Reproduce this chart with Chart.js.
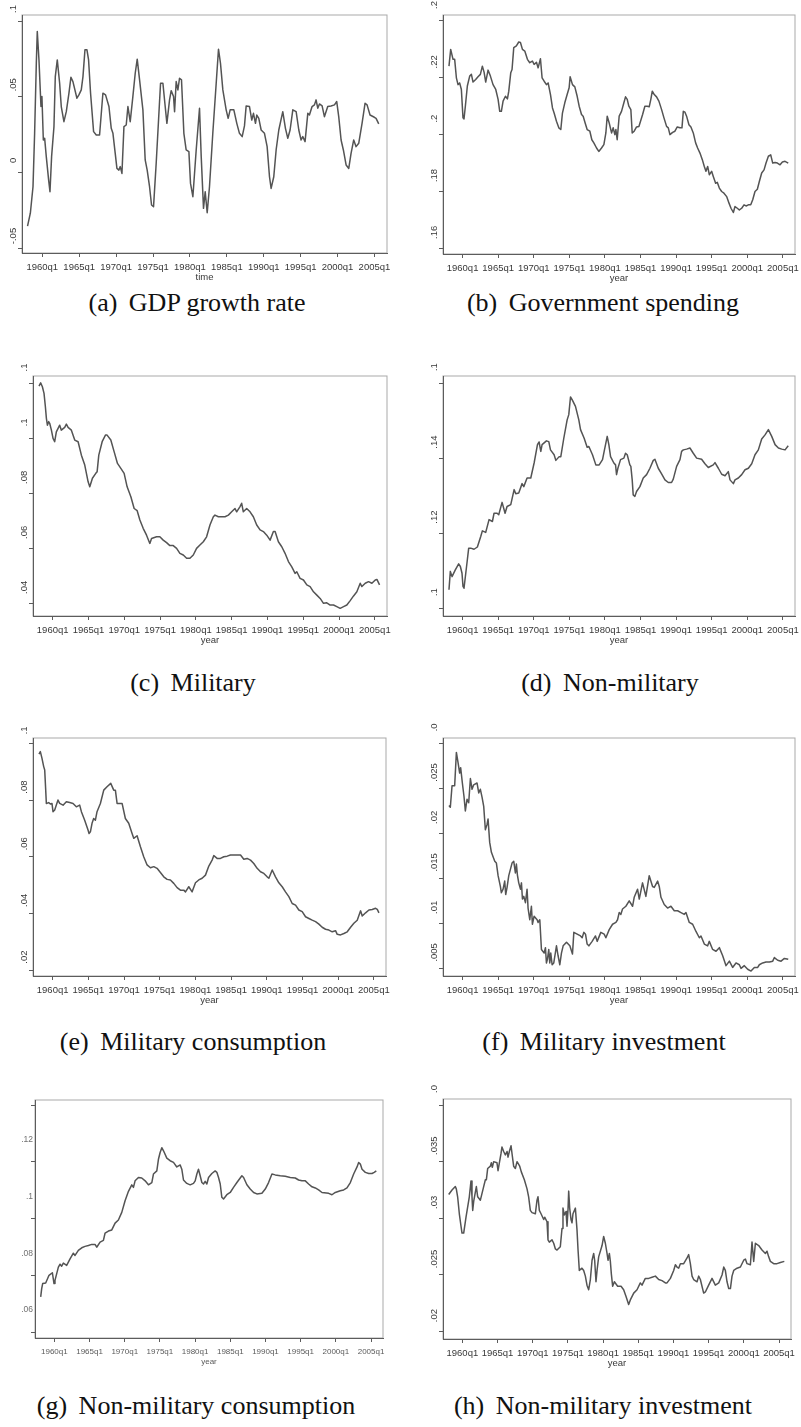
<!DOCTYPE html>
<html>
<head>
<meta charset="utf-8">
<script src="https://cdn.jsdelivr.net/npm/chart.js@4.4.1/dist/chart.umd.min.js"></script>
<style>
  body { margin: 0; background: #fff; width: 801px; height: 1427px; position: relative; overflow: hidden; }
  canvas { position: absolute; }
  .cap { position: absolute; width: 400px; text-align: center; white-space: nowrap;
         font-family: "Liberation Serif", "Times New Roman", serif; font-size: 26px; line-height: 30px; color: #111; }
  .cap span { margin-right: 5px; }
</style>
</head>
<body>
<canvas id="pa"></canvas><canvas id="pb"></canvas>
<canvas id="pc"></canvas><canvas id="pd"></canvas>
<canvas id="pe"></canvas><canvas id="pf"></canvas>
<canvas id="pg"></canvas><canvas id="ph"></canvas>

<div class="cap" style="left:-3px;top:288px"><span>(a)</span> GDP growth rate</div>
<div class="cap" style="left:403px;top:288px"><span>(b)</span> Government spending</div>
<div class="cap" style="left:-7px;top:668px"><span>(c)</span> Military</div>
<div class="cap" style="left:410px;top:668px"><span>(d)</span> Non-military</div>
<div class="cap" style="left:-7px;top:1027px"><span>(e)</span> Military consumption</div>
<div class="cap" style="left:404px;top:1027px"><span>(f)</span> Military investment</div>
<div class="cap" style="left:-4px;top:1391px"><span>(g)</span> Non-military consumption</div>
<div class="cap" style="left:403px;top:1391px"><span>(h)</span> Non-military investment</div>

<script>
// quarterly series, [year, share]
const tickYears = [1960, 1965, 1970, 1975, 1980, 1985, 1990, 1995, 2000, 2005];

const gdpGrowth = [[1958.00,-0.0355],[1958.38,-0.0270],[1958.74,-0.0095],[1958.96,0.0258],[1959.19,0.0721],[1959.32,0.0931],[1959.55,0.0743],[1959.82,0.0435],[1959.95,0.0501],[1960.14,0.0214],[1960.32,0.0225],[1960.54,0.0104],[1960.86,-0.0051],[1961.04,-0.0128],[1961.26,0.0104],[1961.58,0.0302],[1961.76,0.0633],[1962.03,0.0743],[1962.35,0.0589],[1962.57,0.0435],[1962.93,0.0335],[1963.25,0.0401],[1963.61,0.0523],[1963.88,0.0629],[1964.15,0.0600],[1964.69,0.0490],[1964.96,0.0512],[1965.28,0.0545],[1965.51,0.0633],[1965.78,0.0810],[1966.05,0.0810],[1966.27,0.0743],[1966.54,0.0523],[1966.95,0.0269],[1967.31,0.0247],[1967.76,0.0247],[1968.21,0.0523],[1968.57,0.0512],[1969.03,0.0435],[1969.34,0.0291],[1969.57,0.0258],[1969.88,0.0126],[1970.11,0.0026],[1970.38,0.0015],[1970.56,0.0038],[1970.79,-0.0007],[1971.06,0.0302],[1971.37,0.0313],[1971.60,0.0435],[1971.91,0.0335],[1972.27,0.0501],[1972.59,0.0655],[1972.86,0.0748],[1973.18,0.0611],[1973.63,0.0413],[1973.94,0.0082],[1974.21,0.0015],[1974.53,-0.0095],[1974.80,-0.0216],[1975.07,-0.0227],[1975.43,0.0060],[1975.75,0.0346],[1976.02,0.0589],[1976.34,0.0589],[1976.65,0.0435],[1976.88,0.0324],[1977.24,0.0479],[1977.46,0.0540],[1977.78,0.0501],[1977.92,0.0401],[1978.14,0.0600],[1978.37,0.0545],[1978.59,0.0622],[1978.86,0.0611],[1979.18,0.0258],[1979.49,0.0148],[1979.86,0.0137],[1980.08,-0.0073],[1980.40,-0.0161],[1980.85,0.0148],[1981.30,0.0424],[1981.53,0.0104],[1981.84,-0.0238],[1982.07,-0.0128],[1982.34,-0.0267],[1982.65,-0.0095],[1983.10,0.0258],[1983.56,0.0589],[1983.87,0.0814],[1984.14,0.0721],[1984.46,0.0545],[1984.91,0.0413],[1985.18,0.0357],[1985.45,0.0413],[1985.95,0.0413],[1986.35,0.0324],[1986.71,0.0258],[1987.08,0.0236],[1987.39,0.0307],[1987.62,0.0439],[1988.07,0.0435],[1988.38,0.0346],[1988.61,0.0390],[1988.88,0.0324],[1989.06,0.0379],[1989.33,0.0357],[1989.65,0.0280],[1990.10,0.0258],[1990.46,0.0170],[1990.78,-0.0029],[1991.00,-0.0106],[1991.36,-0.0029],[1991.68,0.0148],[1992.04,0.0280],[1992.58,0.0401],[1992.94,0.0291],[1993.26,0.0225],[1993.57,0.0280],[1993.94,0.0413],[1994.39,0.0401],[1994.75,0.0280],[1995.06,0.0214],[1995.29,0.0236],[1995.60,0.0203],[1995.97,0.0390],[1996.19,0.0379],[1996.55,0.0435],[1996.87,0.0446],[1997.09,0.0479],[1997.32,0.0424],[1997.55,0.0452],[1997.91,0.0439],[1998.22,0.0368],[1998.67,0.0435],[1999.12,0.0439],[1999.58,0.0446],[1999.89,0.0468],[2000.16,0.0368],[2000.48,0.0214],[2000.79,0.0148],[2001.16,0.0049],[2001.52,0.0026],[2001.83,0.0126],[2002.19,0.0214],[2002.51,0.0170],[2002.87,0.0192],[2003.32,0.0324],[2003.73,0.0457],[2004.00,0.0446],[2004.40,0.0379],[2004.99,0.0364],[2005.22,0.0357],[2005.58,0.0320]];

const govSpending = [[1958.09,0.2241],[1958.33,0.2300],[1958.66,0.2265],[1958.89,0.2265],[1959.13,0.2200],[1959.36,0.2176],[1959.59,0.2182],[1959.83,0.2159],[1960.06,0.2059],[1960.20,0.2055],[1960.39,0.2100],[1960.67,0.2171],[1961.00,0.2206],[1961.24,0.2212],[1961.47,0.2185],[1961.84,0.2194],[1962.17,0.2204],[1962.50,0.2212],[1962.78,0.2241],[1963.02,0.2220],[1963.25,0.2185],[1963.58,0.2227],[1963.91,0.2206],[1964.28,0.2176],[1964.66,0.2159],[1964.99,0.2124],[1965.22,0.2082],[1965.45,0.2082],[1965.69,0.2118],[1966.02,0.2135],[1966.30,0.2126],[1966.49,0.2153],[1966.77,0.2218],[1966.95,0.2229],[1967.19,0.2306],[1967.56,0.2312],[1967.89,0.2326],[1968.13,0.2324],[1968.41,0.2300],[1968.74,0.2294],[1969.11,0.2265],[1969.44,0.2253],[1969.81,0.2259],[1970.05,0.2247],[1970.38,0.2255],[1970.61,0.2235],[1970.94,0.2267],[1971.17,0.2200],[1971.46,0.2188],[1971.78,0.2176],[1972.02,0.2182],[1972.35,0.2141],[1972.63,0.2094],[1972.86,0.2076],[1973.19,0.2047],[1973.52,0.2024],[1973.80,0.2018],[1974.03,0.2076],[1974.36,0.2112],[1974.69,0.2141],[1974.97,0.2165],[1975.11,0.2204],[1975.44,0.2176],[1975.77,0.2168],[1976.10,0.2135],[1976.38,0.2100],[1976.71,0.2071],[1976.94,0.2065],[1977.22,0.2041],[1977.50,0.2018],[1977.88,0.2012],[1978.16,0.1982],[1978.44,0.1971],[1978.82,0.1953],[1979.14,0.1941],[1979.52,0.1953],[1979.85,0.1965],[1980.13,0.2006],[1980.32,0.2065],[1980.60,0.2041],[1980.93,0.2006],[1981.16,0.2024],[1981.39,0.2000],[1981.54,0.2018],[1981.72,0.1982],[1982.00,0.2065],[1982.33,0.2082],[1982.66,0.2112],[1982.89,0.2133],[1983.13,0.2124],[1983.36,0.2100],[1983.64,0.2088],[1983.83,0.2006],[1984.11,0.2012],[1984.44,0.2027],[1984.77,0.2029],[1985.00,0.2047],[1985.29,0.2071],[1985.61,0.2100],[1985.94,0.2100],[1986.22,0.2098],[1986.46,0.2126],[1986.65,0.2153],[1986.93,0.2141],[1987.25,0.2133],[1987.58,0.2118],[1987.96,0.2088],[1988.29,0.2059],[1988.66,0.2029],[1988.90,0.2024],[1989.13,0.2000],[1989.51,0.2008],[1989.83,0.2012],[1990.16,0.2027],[1990.54,0.2024],[1990.82,0.2024],[1991.01,0.2082],[1991.24,0.2079],[1991.47,0.2065],[1991.80,0.2035],[1992.08,0.2027],[1992.41,0.2006],[1992.74,0.1971],[1993.02,0.1953],[1993.35,0.1935],[1993.68,0.1912],[1993.96,0.1888],[1994.19,0.1871],[1994.43,0.1888],[1994.66,0.1859],[1994.99,0.1871],[1995.22,0.1853],[1995.55,0.1829],[1995.79,0.1832],[1996.07,0.1812],[1996.40,0.1800],[1996.72,0.1794],[1997.10,0.1782],[1997.43,0.1759],[1997.71,0.1741],[1998.04,0.1726],[1998.27,0.1747],[1998.60,0.1741],[1998.88,0.1735],[1999.21,0.1741],[1999.54,0.1753],[1999.82,0.1749],[2000.15,0.1753],[2000.48,0.1753],[2000.76,0.1771],[2001.08,0.1800],[2001.41,0.1808],[2001.69,0.1835],[2002.02,0.1865],[2002.35,0.1876],[2002.63,0.1900],[2002.96,0.1924],[2003.29,0.1929],[2003.57,0.1900],[2003.90,0.1902],[2004.23,0.1900],[2004.60,0.1894],[2004.93,0.1904],[2005.30,0.1906],[2005.75,0.1900]];

const military = [[1958.09,0.1190],[1958.32,0.1202],[1958.56,0.1188],[1958.79,0.1164],[1958.98,0.1115],[1959.12,0.1073],[1959.26,0.1048],[1959.44,0.1061],[1959.58,0.1055],[1959.82,0.1030],[1960.05,0.1000],[1960.28,0.0988],[1960.51,0.1024],[1960.98,0.1048],[1961.21,0.1030],[1961.68,0.1040],[1961.91,0.1052],[1962.15,0.1040],[1962.61,0.1030],[1963.08,0.0994],[1963.55,0.0988],[1964.01,0.0939],[1964.48,0.0903],[1964.95,0.0842],[1965.18,0.0824],[1965.55,0.0855],[1966.02,0.0873],[1966.21,0.0879],[1966.44,0.0939],[1966.91,0.0988],[1967.37,0.1012],[1967.60,0.1012],[1968.12,0.0994],[1968.58,0.0952],[1969.05,0.0909],[1969.52,0.0891],[1969.98,0.0873],[1970.40,0.0824],[1970.92,0.0788],[1971.38,0.0745],[1971.80,0.0737],[1972.18,0.0703],[1972.64,0.0673],[1973.11,0.0648],[1973.57,0.0618],[1973.81,0.0636],[1974.51,0.0642],[1974.97,0.0642],[1975.44,0.0630],[1975.91,0.0621],[1976.37,0.0610],[1976.84,0.0610],[1977.31,0.0600],[1977.77,0.0582],[1978.24,0.0576],[1978.71,0.0564],[1979.17,0.0564],[1979.64,0.0576],[1980.10,0.0600],[1980.57,0.0612],[1981.04,0.0624],[1981.50,0.0642],[1981.97,0.0685],[1982.44,0.0715],[1982.67,0.0721],[1983.14,0.0715],[1983.60,0.0715],[1984.07,0.0715],[1984.54,0.0721],[1985.00,0.0733],[1985.47,0.0745],[1985.70,0.0733],[1986.17,0.0752],[1986.40,0.0764],[1986.63,0.0733],[1987.10,0.0745],[1987.57,0.0733],[1988.03,0.0715],[1988.50,0.0685],[1988.97,0.0667],[1989.43,0.0661],[1989.90,0.0648],[1990.37,0.0630],[1990.83,0.0661],[1991.07,0.0661],[1991.53,0.0624],[1992.00,0.0606],[1992.46,0.0582],[1992.93,0.0552],[1993.40,0.0533],[1993.86,0.0509],[1994.10,0.0515],[1994.56,0.0491],[1995.03,0.0485],[1995.50,0.0467],[1995.96,0.0461],[1996.43,0.0442],[1996.90,0.0430],[1997.36,0.0418],[1997.83,0.0400],[1998.29,0.0402],[1998.76,0.0394],[1999.23,0.0394],[1999.69,0.0388],[2000.16,0.0382],[2000.63,0.0388],[2001.09,0.0394],[2001.56,0.0410],[2002.03,0.0427],[2002.49,0.0442],[2002.96,0.0473],[2003.19,0.0461],[2003.66,0.0473],[2004.12,0.0479],[2004.59,0.0473],[2005.06,0.0485],[2005.29,0.0487],[2005.66,0.0467]];

const nonMilitary = [[1958.09,0.1049],[1958.28,0.1098],[1958.52,0.1084],[1958.98,0.1102],[1959.45,0.1118],[1959.69,0.1111],[1959.92,0.1093],[1960.06,0.1058],[1960.20,0.1053],[1960.67,0.1129],[1960.86,0.1160],[1961.14,0.1160],[1961.61,0.1157],[1962.08,0.1163],[1962.55,0.1191],[1962.78,0.1206],[1963.25,0.1202],[1963.72,0.1236],[1964.19,0.1231],[1964.42,0.1253],[1964.85,0.1253],[1965.08,0.1249],[1965.55,0.1282],[1965.97,0.1253],[1966.25,0.1271],[1966.77,0.1276],[1967.24,0.1316],[1967.47,0.1305],[1967.89,0.1307],[1968.36,0.1332],[1968.60,0.1324],[1969.06,0.1347],[1969.58,0.1347],[1970.05,0.1387],[1970.52,0.1436],[1970.75,0.1443],[1970.99,0.1418],[1971.17,0.1436],[1971.78,0.1446],[1972.11,0.1444],[1972.35,0.1422],[1972.86,0.1409],[1973.10,0.1394],[1973.57,0.1404],[1973.80,0.1404],[1974.22,0.1453],[1974.69,0.1502],[1974.92,0.1516],[1975.16,0.1563],[1975.39,0.1556],[1975.86,0.1538],[1976.33,0.1502],[1976.57,0.1476],[1977.08,0.1453],[1977.50,0.1429],[1977.74,0.1431],[1978.25,0.1409],[1978.72,0.1382],[1979.19,0.1382],[1979.66,0.1396],[1979.89,0.1418],[1980.32,0.1458],[1980.55,0.1436],[1980.79,0.1404],[1981.25,0.1387],[1981.49,0.1382],[1981.63,0.1356],[1981.82,0.1373],[1982.19,0.1396],[1982.66,0.1400],[1982.89,0.1413],[1983.13,0.1409],[1983.50,0.1382],[1983.64,0.1378],[1983.83,0.1342],[1983.97,0.1302],[1984.21,0.1298],[1984.44,0.1311],[1984.91,0.1324],[1985.38,0.1347],[1985.85,0.1356],[1986.32,0.1373],[1986.79,0.1394],[1987.02,0.1397],[1987.49,0.1373],[1987.96,0.1358],[1988.43,0.1342],[1988.90,0.1335],[1989.36,0.1335],[1989.60,0.1344],[1990.07,0.1378],[1990.54,0.1396],[1990.77,0.1418],[1991.01,0.1422],[1991.47,0.1424],[1991.94,0.1427],[1992.41,0.1413],[1992.88,0.1400],[1993.58,0.1397],[1994.05,0.1385],[1994.52,0.1375],[1995.22,0.1382],[1995.46,0.1388],[1995.93,0.1373],[1996.40,0.1357],[1996.87,0.1353],[1997.33,0.1364],[1997.57,0.1342],[1998.04,0.1332],[1998.27,0.1342],[1998.74,0.1347],[1999.21,0.1356],[1999.68,0.1369],[2000.15,0.1373],[2000.62,0.1385],[2001.08,0.1409],[2001.55,0.1422],[2002.02,0.1451],[2002.49,0.1462],[2002.96,0.1476],[2003.43,0.1458],[2003.90,0.1436],[2004.37,0.1427],[2004.84,0.1424],[2005.30,0.1422],[2005.75,0.1433]];

const militaryConsumption = [[1958.09,0.0962],[1958.28,0.0971],[1958.51,0.0947],[1958.75,0.0918],[1958.89,0.0906],[1959.03,0.0835],[1959.12,0.0788],[1959.45,0.0791],[1959.68,0.0786],[1959.91,0.0788],[1960.05,0.0759],[1960.29,0.0765],[1960.75,0.0800],[1960.99,0.0788],[1961.46,0.0782],[1961.92,0.0794],[1962.39,0.0791],[1962.86,0.0788],[1963.32,0.0776],[1963.79,0.0782],[1964.03,0.0759],[1964.49,0.0729],[1964.96,0.0694],[1965.10,0.0682],[1965.29,0.0688],[1965.52,0.0718],[1965.75,0.0735],[1965.99,0.0729],[1966.22,0.0759],[1966.69,0.0788],[1967.16,0.0835],[1967.62,0.0847],[1968.14,0.0859],[1968.56,0.0835],[1968.79,0.0835],[1969.03,0.0788],[1969.73,0.0788],[1970.19,0.0735],[1970.66,0.0718],[1971.13,0.0682],[1971.36,0.0665],[1971.83,0.0674],[1972.30,0.0635],[1972.76,0.0600],[1973.23,0.0571],[1973.70,0.0561],[1974.17,0.0565],[1974.63,0.0559],[1975.10,0.0544],[1975.57,0.0529],[1976.04,0.0520],[1976.50,0.0518],[1976.97,0.0506],[1977.44,0.0491],[1977.90,0.0482],[1978.37,0.0482],[1978.61,0.0476],[1979.07,0.0494],[1979.54,0.0476],[1980.01,0.0508],[1980.47,0.0518],[1980.94,0.0524],[1981.41,0.0535],[1981.88,0.0567],[1982.34,0.0588],[1982.58,0.0604],[1983.04,0.0594],[1983.51,0.0594],[1983.98,0.0600],[1984.45,0.0602],[1984.91,0.0606],[1985.38,0.0606],[1985.85,0.0606],[1986.32,0.0606],[1986.78,0.0591],[1987.25,0.0594],[1987.72,0.0588],[1988.18,0.0576],[1988.65,0.0559],[1989.12,0.0547],[1989.59,0.0541],[1990.05,0.0529],[1990.29,0.0524],[1990.76,0.0553],[1991.22,0.0529],[1991.69,0.0508],[1992.16,0.0494],[1992.62,0.0476],[1993.09,0.0459],[1993.56,0.0435],[1994.03,0.0429],[1994.49,0.0412],[1994.96,0.0406],[1995.43,0.0388],[1995.90,0.0382],[1996.36,0.0376],[1996.83,0.0371],[1997.30,0.0362],[1997.76,0.0351],[1998.23,0.0344],[1998.70,0.0341],[1999.17,0.0335],[1999.63,0.0339],[1999.87,0.0326],[2000.33,0.0324],[2000.80,0.0329],[2001.27,0.0335],[2001.74,0.0351],[2002.20,0.0365],[2002.67,0.0376],[2003.14,0.0409],[2003.37,0.0391],[2003.84,0.0402],[2004.31,0.0412],[2004.77,0.0414],[2005.24,0.0418],[2005.48,0.0414],[2005.71,0.0402]];

const militaryInvestment = [[1958.09,0.0231],[1958.28,0.0229],[1958.52,0.0253],[1958.89,0.0253],[1959.13,0.0290],[1959.36,0.0279],[1959.59,0.0267],[1959.73,0.0273],[1959.97,0.0256],[1960.20,0.0241],[1960.39,0.0225],[1960.63,0.0238],[1960.86,0.0234],[1961.10,0.0261],[1961.33,0.0249],[1961.56,0.0254],[1962.03,0.0256],[1962.27,0.0245],[1962.50,0.0249],[1962.74,0.0240],[1962.97,0.0230],[1963.20,0.0204],[1963.44,0.0210],[1963.58,0.0216],[1963.81,0.0190],[1964.05,0.0179],[1964.52,0.0169],[1964.75,0.0167],[1964.99,0.0153],[1965.31,0.0141],[1965.45,0.0134],[1965.69,0.0138],[1965.92,0.0147],[1966.06,0.0132],[1966.25,0.0140],[1966.49,0.0153],[1966.95,0.0167],[1967.19,0.0169],[1967.42,0.0156],[1967.56,0.0166],[1967.70,0.0154],[1967.89,0.0145],[1968.13,0.0138],[1968.27,0.0145],[1968.41,0.0127],[1968.60,0.0130],[1968.83,0.0123],[1969.06,0.0138],[1969.20,0.0117],[1969.44,0.0104],[1969.67,0.0119],[1969.81,0.0099],[1970.05,0.0108],[1970.47,0.0104],[1970.61,0.0101],[1970.85,0.0104],[1971.08,0.0071],[1971.46,0.0067],[1971.64,0.0073],[1971.78,0.0056],[1971.92,0.0060],[1972.11,0.0071],[1972.25,0.0056],[1972.39,0.0067],[1972.58,0.0054],[1972.81,0.0056],[1973.19,0.0075],[1973.42,0.0064],[1973.66,0.0054],[1973.89,0.0067],[1974.13,0.0075],[1974.60,0.0079],[1975.07,0.0075],[1975.44,0.0066],[1975.63,0.0090],[1976.10,0.0088],[1976.57,0.0086],[1976.80,0.0084],[1977.03,0.0090],[1977.27,0.0088],[1977.50,0.0077],[1977.74,0.0075],[1978.20,0.0080],[1978.67,0.0086],[1978.91,0.0080],[1979.42,0.0090],[1979.89,0.0088],[1980.13,0.0084],[1980.60,0.0093],[1981.07,0.0099],[1981.54,0.0101],[1981.77,0.0104],[1982.00,0.0112],[1982.24,0.0110],[1982.47,0.0116],[1982.94,0.0119],[1983.41,0.0125],[1983.88,0.0119],[1984.11,0.0129],[1984.58,0.0138],[1984.82,0.0127],[1985.28,0.0145],[1985.75,0.0130],[1986.22,0.0153],[1986.69,0.0141],[1986.93,0.0140],[1987.40,0.0147],[1987.63,0.0141],[1987.87,0.0129],[1988.33,0.0121],[1988.80,0.0117],[1989.27,0.0119],[1989.74,0.0114],[1990.21,0.0114],[1990.68,0.0112],[1991.15,0.0110],[1991.38,0.0112],[1991.85,0.0101],[1992.32,0.0099],[1992.79,0.0091],[1993.26,0.0084],[1993.49,0.0086],[1993.96,0.0077],[1994.43,0.0075],[1994.66,0.0080],[1995.13,0.0071],[1995.60,0.0069],[1996.07,0.0073],[1996.54,0.0064],[1997.01,0.0053],[1997.48,0.0058],[1997.94,0.0051],[1998.41,0.0056],[1998.88,0.0054],[1999.12,0.0050],[1999.58,0.0053],[2000.05,0.0049],[2000.52,0.0047],[2000.99,0.0051],[2001.46,0.0051],[2001.69,0.0054],[2002.16,0.0056],[2002.63,0.0057],[2003.10,0.0057],[2003.57,0.0058],[2003.80,0.0062],[2004.27,0.0059],[2004.74,0.0058],[2005.21,0.0061],[2005.75,0.0060]];

const nonMilitaryConsumption = [[1958.06,0.0724],[1958.20,0.0753],[1958.34,0.0771],[1958.77,0.0773],[1959.24,0.0800],[1959.72,0.0809],[1959.95,0.0771],[1960.09,0.0782],[1960.57,0.0829],[1960.81,0.0839],[1961.04,0.0832],[1961.28,0.0843],[1961.75,0.0835],[1962.23,0.0858],[1962.70,0.0878],[1962.94,0.0870],[1963.41,0.0888],[1963.89,0.0897],[1964.36,0.0902],[1964.84,0.0905],[1965.31,0.0909],[1965.78,0.0909],[1966.02,0.0899],[1966.50,0.0917],[1966.97,0.0923],[1967.21,0.0949],[1967.68,0.0956],[1968.16,0.0960],[1968.63,0.0984],[1969.10,0.0995],[1969.58,0.1022],[1970.05,0.1063],[1970.53,0.1096],[1971.00,0.1119],[1971.24,0.1110],[1971.47,0.1133],[1971.95,0.1145],[1972.42,0.1143],[1972.90,0.1133],[1973.37,0.1119],[1973.85,0.1127],[1974.08,0.1157],[1974.56,0.1168],[1974.79,0.1209],[1975.03,0.1233],[1975.27,0.1250],[1975.51,0.1239],[1975.98,0.1213],[1976.45,0.1204],[1976.93,0.1198],[1977.40,0.1182],[1977.64,0.1186],[1977.88,0.1189],[1978.11,0.1174],[1978.35,0.1136],[1978.82,0.1124],[1979.30,0.1119],[1979.77,0.1124],[1980.01,0.1133],[1980.25,0.1157],[1980.48,0.1174],[1980.72,0.1151],[1980.96,0.1127],[1981.19,0.1122],[1981.43,0.1131],[1981.67,0.1122],[1981.91,0.1145],[1982.38,0.1159],[1982.85,0.1168],[1983.09,0.1163],[1983.33,0.1145],[1983.57,0.1122],[1983.80,0.1075],[1984.04,0.1069],[1984.51,0.1084],[1984.99,0.1092],[1985.46,0.1110],[1985.94,0.1127],[1986.41,0.1143],[1986.65,0.1151],[1986.89,0.1145],[1987.36,0.1119],[1987.83,0.1104],[1988.31,0.1092],[1988.78,0.1087],[1989.49,0.1089],[1989.97,0.1104],[1990.44,0.1127],[1990.92,0.1157],[1991.39,0.1154],[1992.10,0.1151],[1992.81,0.1149],[1993.52,0.1145],[1994.23,0.1143],[1994.71,0.1136],[1995.18,0.1133],[1995.66,0.1133],[1996.13,0.1122],[1996.61,0.1112],[1997.08,0.1108],[1997.55,0.1101],[1998.03,0.1092],[1998.98,0.1089],[1999.45,0.1084],[1999.92,0.1092],[2000.63,0.1098],[2001.11,0.1101],[2001.58,0.1108],[2002.06,0.1127],[2002.53,0.1157],[2003.01,0.1182],[2003.24,0.1198],[2003.48,0.1192],[2003.72,0.1174],[2004.19,0.1163],[2004.67,0.1159],[2005.14,0.1159],[2005.45,0.1163],[2005.75,0.1168]];

const nonMilitaryInvestment = [[1958.06,0.0321],[1958.53,0.0325],[1959.00,0.0328],[1959.14,0.0326],[1959.33,0.0319],[1959.57,0.0304],[1959.81,0.0293],[1959.95,0.0287],[1960.19,0.0287],[1960.52,0.0301],[1960.99,0.0319],[1961.23,0.0333],[1961.37,0.0319],[1961.47,0.0307],[1961.61,0.0315],[1961.99,0.0328],[1962.18,0.0319],[1962.56,0.0316],[1963.03,0.0328],[1963.27,0.0334],[1963.41,0.0334],[1963.60,0.0344],[1963.98,0.0346],[1964.12,0.0349],[1964.26,0.0345],[1964.45,0.0350],[1964.92,0.0349],[1965.07,0.0342],[1965.26,0.0349],[1965.49,0.0357],[1965.63,0.0363],[1965.87,0.0359],[1966.11,0.0356],[1966.35,0.0359],[1966.49,0.0354],[1966.68,0.0359],[1966.92,0.0364],[1967.06,0.0357],[1967.29,0.0346],[1967.53,0.0344],[1967.77,0.0350],[1968.15,0.0346],[1968.38,0.0341],[1968.81,0.0334],[1969.19,0.0326],[1969.42,0.0319],[1969.66,0.0307],[1969.90,0.0305],[1970.37,0.0304],[1970.61,0.0316],[1970.75,0.0319],[1970.94,0.0307],[1971.18,0.0304],[1971.56,0.0299],[1971.70,0.0301],[1972.03,0.0297],[1972.17,0.0281],[1972.36,0.0279],[1972.74,0.0281],[1972.98,0.0278],[1973.22,0.0273],[1973.45,0.0272],[1973.92,0.0275],[1974.16,0.0291],[1974.30,0.0309],[1974.49,0.0303],[1974.73,0.0306],[1974.87,0.0293],[1975.01,0.0307],[1975.11,0.0324],[1975.25,0.0309],[1975.44,0.0299],[1975.58,0.0296],[1975.72,0.0304],[1976.06,0.0309],[1976.29,0.0290],[1976.44,0.0272],[1976.62,0.0254],[1977.00,0.0256],[1977.24,0.0254],[1977.48,0.0249],[1977.71,0.0241],[1977.95,0.0237],[1978.19,0.0246],[1978.43,0.0263],[1978.66,0.0269],[1978.80,0.0263],[1978.99,0.0244],[1979.14,0.0254],[1979.37,0.0266],[1979.85,0.0276],[1980.08,0.0284],[1980.32,0.0278],[1980.56,0.0269],[1980.70,0.0263],[1980.89,0.0269],[1981.03,0.0262],[1981.17,0.0251],[1981.36,0.0240],[1981.60,0.0244],[1982.07,0.0240],[1982.55,0.0240],[1982.92,0.0237],[1983.26,0.0231],[1983.63,0.0224],[1983.87,0.0228],[1984.35,0.0234],[1984.82,0.0237],[1985.29,0.0243],[1985.53,0.0241],[1986.00,0.0247],[1986.48,0.0247],[1986.95,0.0248],[1987.43,0.0249],[1987.90,0.0246],[1988.37,0.0245],[1988.85,0.0243],[1989.08,0.0243],[1989.56,0.0247],[1990.03,0.0254],[1990.27,0.0259],[1990.50,0.0257],[1990.74,0.0256],[1990.98,0.0260],[1991.45,0.0260],[1991.93,0.0265],[1992.16,0.0268],[1992.40,0.0260],[1992.64,0.0249],[1992.87,0.0246],[1993.35,0.0244],[1993.58,0.0249],[1993.82,0.0246],[1994.29,0.0234],[1994.53,0.0235],[1995.00,0.0241],[1995.48,0.0247],[1995.95,0.0241],[1996.43,0.0243],[1996.90,0.0250],[1997.14,0.0257],[1997.37,0.0254],[1997.61,0.0244],[1997.85,0.0238],[1998.09,0.0238],[1998.32,0.0249],[1998.56,0.0254],[1999.03,0.0256],[1999.51,0.0257],[1999.98,0.0263],[2000.22,0.0264],[2000.45,0.0260],[2000.93,0.0259],[2001.16,0.0279],[2001.40,0.0262],[2001.64,0.0278],[2002.11,0.0276],[2002.58,0.0272],[2003.06,0.0269],[2003.29,0.0271],[2003.53,0.0266],[2003.77,0.0262],[2004.24,0.0260],[2004.71,0.0260],[2005.19,0.0261],[2005.75,0.0262]];

// y ticks; the top label of several panels is cut by the crop of the source figure
const gdpTicks = [-0.05, 0, 0.05, 0.1];
const gdpTickText = ['-.05', '0', '.05', '.1'];
const govTicks = [0.16, 0.18, 0.2, 0.22, 0.24];
const govTickText = ['.16', '.18', '.2', '.22', '.2'];
const milTicks = [0.04, 0.06, 0.08, 0.1, 0.12];
const milTickText = ['.04', '.06', '.08', '.1', '.1'];
const nonMilTicks = [0.1, 0.12, 0.14, 0.16];
const nonMilTickText = ['.1', '.12', '.14', '.1'];
const milConTicks = [0.02, 0.04, 0.06, 0.08, 0.1];
const milConTickText = ['.02', '.04', '.06', '.08', '.1'];
const milInvTicks = [0.005, 0.01, 0.015, 0.02, 0.025, 0.03];
const milInvTickText = ['.005', '.01', '.015', '.02', '.025', '.0'];
const nonMilConTicks = [0.06, 0.08, 0.1, 0.12, 0.14];
const nonMilConTickText = ['.06', '.08', '.1', '.12', ''];
const nonMilInvTicks = [0.02, 0.025, 0.03, 0.035, 0.04];
const nonMilInvTickText = ['.02', '.025', '.03', '.035', '.0'];

const X_MIN = 1957.25, X_MAX = 2006.7;

// panel layout: plot box in page pixels [left, top, right, bottom]
const panels = [
  { id: 'pa', col: 0, box: [22, 15, 387, 253],   series: gdpGrowth, ticks: gdpTicks, text: gdpTickText, yMin: -0.0533, yMax: 0.1040, title: 'time', shift: 12 },
  { id: 'pb', col: 1, box: [443, 15, 795, 254],  series: govSpending, ticks: govTicks, text: govTickText, yMin: 0.1580, yMax: 0.2421, title: 'year', shift: 16 },
  { id: 'pc', col: 0, box: [33, 376, 387, 616],  series: military, ticks: milTicks, text: milTickText, yMin: 0.0354, yMax: 0.1227, title: 'year', shift: 16 },
  { id: 'pd', col: 1, box: [443, 376, 795, 616], series: nonMilitary, ticks: nonMilTicks, text: nonMilTickText, yMin: 0.0979, yMax: 0.1619, title: 'year', shift: 16 },
  { id: 'pe', col: 0, box: [33, 738, 386, 976],  series: militaryConsumption, ticks: milConTicks, text: milConTickText, yMin: 0.0179, yMax: 0.1019, title: 'year', shift: 13 },
  { id: 'pf', col: 1, box: [443, 738, 795, 976], series: militaryInvestment, ticks: milInvTicks, text: milInvTickText, yMin: 0.00415, yMax: 0.0306, title: 'year', shift: 16 },
  { id: 'pg', col: 0, box: [35, 1100, 383, 1338], series: nonMilitaryConsumption, ticks: nonMilConTicks, text: nonMilConTickText, yMin: 0.0579, yMax: 0.1418, title: 'year', shift: 22, flat: true },
  { id: 'ph', col: 1, box: [443, 1099, 791, 1339], series: nonMilitaryInvestment, ticks: nonMilInvTicks, text: nonMilInvTickText, yMin: 0.01935, yMax: 0.04053, title: 'year', shift: 16 }
];

const TICK = 4;

// frame round the plot region, and Stata-like tick texts
const stataAxes = {
  id: 'stataAxes',
  beforeDraw(chart) {
    const { ctx, chartArea: a } = chart;
    ctx.save();
    ctx.strokeStyle = '#a9a9a9';
    ctx.lineWidth = 1;
    ctx.strokeRect(a.left, a.top, a.right - a.left, a.bottom - a.top);
    ctx.restore();
  },
  afterDraw(chart, args, o) {
    const { ctx, chartArea: a, scales: { x, y } } = chart;
    ctx.save();
    ctx.fillStyle = o.flat ? '#5a5a5a' : '#383838';
    ctx.font = (o.flat ? '8px' : '9.5px') + ' "Liberation Sans", Arial, sans-serif';
    ctx.textAlign = 'center';
    ctx.textBaseline = 'middle';
    tickYears.forEach(v => ctx.fillText(v + 'q1', x.getPixelForValue(v), a.bottom + 14));
    ctx.fillText(o.title, (a.left + a.right) / 2, a.bottom + 24);

    o.ticks.forEach((v, i) => {
      const py = y.getPixelForValue(v) - o.shift;
      if (o.flat) {
        ctx.textAlign = 'right';
        ctx.font = '8.5px "Liberation Sans", Arial, sans-serif';
        ctx.fillStyle = '#707070';
        ctx.fillText(o.text[i], a.left - 2, py);
      } else {
        ctx.save();
        ctx.translate(a.left - 8.5, py);
        ctx.rotate(-Math.PI / 2);
        ctx.fillText(o.text[i], 0, 0);
        ctx.restore();
      }
    });
    ctx.restore();
  }
};

panels.forEach(p => {
  const [bl, bt, br, bb] = p.box;
  const cx = p.col ? 400 : 0;
  const cw = p.col ? 401 : 400;
  const cy = bt - 15;
  const ch = bb - cy + 34;
  const canvas = document.getElementById(p.id);
  canvas.width = cw; canvas.height = ch;
  canvas.style.left = cx + 'px'; canvas.style.top = cy + 'px';
  canvas.style.width = cw + 'px'; canvas.style.height = ch + 'px';

  const axisLine = { display: true, drawOnChartArea: false, drawTicks: true, tickLength: TICK, color: '#5c5c5c', tickColor: '#5c5c5c', lineWidth: 1 };

  new Chart(canvas, {
    type: 'line',
    data: {
      datasets: [{
        data: p.series.map(([yr, v]) => ({ x: yr, y: v })),
        borderColor: '#545454',
        borderWidth: 1.5,
        pointRadius: 0,
        tension: 0,
        borderJoinStyle: 'round'
      }]
    },
    options: {
      responsive: false,
      animation: false,
      events: [],
      layout: { padding: { left: bl - cx - TICK, top: bt - cy, right: cx + cw - br, bottom: cy + ch - bb - TICK } },
      plugins: {
        legend: { display: false },
        tooltip: { enabled: false },
        stataAxes: { ticks: p.ticks, text: p.text, title: p.title, shift: p.shift, flat: !!p.flat }
      },
      scales: {
        x: {
          type: 'linear', min: X_MIN, max: X_MAX,
          afterBuildTicks: s => { s.ticks = tickYears.map(v => ({ value: v })); },
          ticks: { display: false },
          grid: axisLine,
          border: { display: true, color: '#5c5c5c', width: 1 }
        },
        y: {
          type: 'linear', min: p.yMin, max: p.yMax,
          afterBuildTicks: s => { s.ticks = p.ticks.map(v => ({ value: v })); },
          ticks: { display: false },
          grid: axisLine,
          border: { display: true, color: '#5c5c5c', width: 1 }
        }
      }
    },
    plugins: [stataAxes]
  });
});
</script>
</body>
</html>
